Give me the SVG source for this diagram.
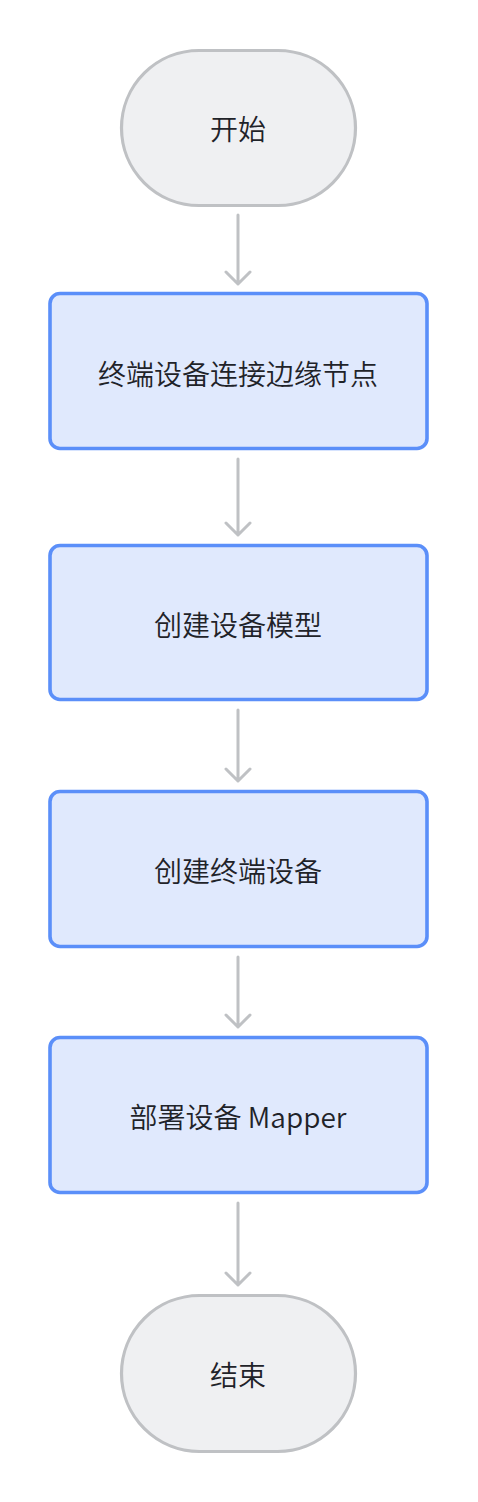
<svg xmlns="http://www.w3.org/2000/svg" width="478" height="1502" viewBox="0 0 478 1502">
<style>
.term{fill:#eff0f2;stroke:#bfc1c4;stroke-width:3.2}
.proc{fill:#e0e9fd;stroke:#5b8ff9;stroke-width:3.6}
.lbl{font-family:"Noto Sans CJK SC","Noto Sans",sans-serif;font-size:28px;font-weight:350;fill:#1f2329;text-anchor:middle;dominant-baseline:central}
.edge{fill:none;stroke:#bfc1c4;stroke-width:3;stroke-linecap:round;stroke-linejoin:round}
</style>
<rect width="478" height="1502" fill="#ffffff"/>
<g id="connectors">
<path class="edge" d="M238 215V284M226 272L238 284L250 272"/>
<path class="edge" d="M238 459V535M226 523L238 535L250 523"/>
<path class="edge" d="M238 710V781M226 769L238 781L250 769"/>
<path class="edge" d="M238 957V1027M226 1015L238 1027L250 1015"/>
<path class="edge" d="M238 1203V1285M226 1273L238 1285L250 1273"/>
</g>
<g id="start">
<rect class="term" x="121.5" y="50.5" width="234" height="155" rx="77.5"/>
<text class="lbl" x="238" y="128">开始</text>
</g>
<g id="step1">
<rect class="proc" x="50" y="293.5" width="377" height="155" rx="10"/>
<text class="lbl" x="238" y="373">终端设备连接边缘节点</text>
</g>
<g id="step2">
<rect class="proc" x="50" y="545.5" width="377" height="154" rx="10"/>
<text class="lbl" x="238" y="624">创建设备模型</text>
</g>
<g id="step3">
<rect class="proc" x="50" y="791.5" width="377" height="155" rx="10"/>
<text class="lbl" x="238" y="870">创建终端设备</text>
</g>
<g id="step4">
<rect class="proc" x="50" y="1037.5" width="377" height="155" rx="10"/>
<text class="lbl" x="238" y="1116">部署设备 Mapper</text>
</g>
<g id="end">
<rect class="term" x="121.5" y="1295.5" width="234" height="156" rx="78"/>
<text class="lbl" x="238" y="1374">结束</text>
</g>
</svg>
